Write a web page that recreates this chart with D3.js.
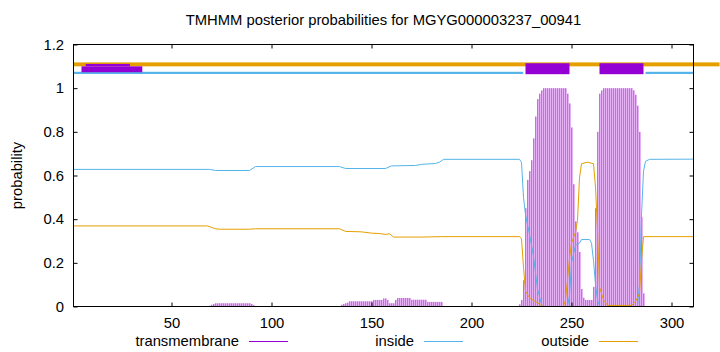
<!DOCTYPE html>
<html>
<head>
<meta charset="utf-8">
<script src="https://cdn.jsdelivr.net/npm/d3@7"></script>
<style>
  body { margin: 0; background: #fff; }
  svg { display: block; font-family: "Liberation Sans", Arial, sans-serif; }
</style>
</head>
<body>
<div id="my_dataviz"></div>
<script>
// sequence positions and ticks
const seqLen = 311;
const xTicks = [50, 100, 150, 200, 250, 300];
const yTicks = [0, 0.2, 0.4, 0.6, 0.8, 1, 1.2];
const titleText = "TMHMM posterior probabilities for MGYG000003237_00941";
const legendNames = ["transmembrane", "inside", "outside"];

// transmembrane posterior, one value per residue (1..311)
const tmProb = [
  0, 0, 0, 0, 0, 0, 0, 0, 0, 0, 0, 0, 0, 0, 0, 0, 0, 0, 0, 0,
  0, 0, 0, 0, 0, 0, 0, 0, 0, 0, 0, 0, 0, 0, 0, 0, 0, 0, 0, 0,
  0, 0, 0, 0, 0, 0, 0, 0, 0, 0, 0, 0, 0, 0, 0, 0, 0, 0, 0, 0,
  0, 0, 0, 0, 0, 0, 0, 0, 0.004, 0.008, 0.012, 0.015, 0.015, 0.015, 0.015, 0.015, 0.015, 0.015, 0.015, 0.015,
  0.015, 0.015, 0.015, 0.015, 0.015, 0.015, 0.015, 0.015, 0.015, 0.012, 0.006, 0, 0, 0, 0, 0, 0, 0, 0, 0,
  0, 0, 0, 0, 0, 0, 0, 0, 0, 0, 0, 0, 0, 0, 0, 0, 0, 0, 0, 0,
  0, 0, 0, 0, 0, 0, 0, 0, 0, 0, 0, 0, 0, 0, 0.008, 0.012, 0.015, 0.018, 0.024, 0.024,
  0.024, 0.024, 0.024, 0.024, 0.024, 0.024, 0.024, 0.024, 0.024, 0.024, 0.03, 0.03, 0.03, 0.03, 0.03, 0.037, 0.037, 0.03, 0.015, 0.015,
  0.015, 0.03, 0.039, 0.039, 0.039, 0.039, 0.039, 0.039, 0.039, 0.031, 0.031, 0.031, 0.031, 0.031, 0.031, 0.031, 0.031, 0.021, 0.021, 0.021,
  0.021, 0.021, 0.021, 0.021, 0.021, 0, 0, 0, 0, 0, 0, 0, 0, 0, 0, 0, 0, 0, 0, 0,
  0, 0, 0, 0, 0, 0, 0, 0, 0, 0, 0, 0, 0, 0, 0, 0, 0, 0, 0, 0,
  0, 0, 0, 0.01, 0.03, 0.12, 0.45, 0.58, 0.62, 0.67, 0.77, 0.87, 0.95, 0.975, 0.99, 1, 1, 1, 1, 1,
  1, 1, 1, 1, 1, 1, 1, 0.975, 0.93, 0.82, 0.56, 0.39, 0.34, 0.25, 0.08, 0.04, 0.03, 0.03, 0.03, 0.03,
  0.09, 0.45, 0.8, 0.975, 0.99, 1, 1, 1, 1, 1, 1, 1, 1, 1, 1, 1, 1, 1, 1, 1,
  0.99, 0.97, 0.92, 0.8, 0.41, 0.06, 0, 0, 0, 0, 0, 0, 0, 0, 0, 0, 0, 0, 0, 0,
  0, 0, 0, 0, 0, 0, 0, 0, 0, 0, 0
];

// inside / outside curves as [residue, probability] vertices
const insideLine = [
  [1, 0.628], [69, 0.628], [72, 0.623], [89, 0.623], [92, 0.641], [134, 0.641],
  [137, 0.632], [157, 0.632], [160, 0.644], [172, 0.646], [175, 0.651], [182, 0.655],
  [184, 0.661], [186, 0.674], [224, 0.674], [225, 0.66], [226, 0.5], [227, 0.42],
  [229, 0.33], [231, 0.23], [233, 0.08], [235, 0.01], [236, 0], [248, 0], [249, 0.05],
  [250, 0.2], [252, 0.28], [254, 0.29], [255, 0.307], [259, 0.307], [260, 0.29],
  [261, 0.21], [262, 0.1], [263, 0.03], [264, 0], [283, 0], [284, 0.1], [285, 0.42],
  [286, 0.62], [287, 0.665], [289, 0.674], [311, 0.675]
];
const outsideLine = [
  [1, 0.369], [68, 0.369], [72, 0.356], [74, 0.354], [89, 0.354], [92, 0.356],
  [134, 0.356], [137, 0.344], [145, 0.342], [150, 0.336], [154, 0.334], [157, 0.33],
  [159, 0.333], [161, 0.318], [175, 0.318], [185, 0.32], [224, 0.32], [225, 0.31],
  [226, 0.18], [227, 0.07], [229, 0.04], [232, 0.022], [235, 0.005], [236, 0], [246, 0],
  [247, 0.03], [248, 0.12], [249, 0.22], [250, 0.29], [252, 0.34], [253, 0.395],
  [254, 0.59], [255, 0.654], [258, 0.661], [261, 0.654], [262, 0.547], [263, 0.35],
  [264, 0.09], [266, 0.03], [268, 0.005], [280, 0.005], [282, 0.022], [284, 0.06],
  [285, 0.21], [286, 0.32], [311, 0.32]
];

// predicted topology strips along the top: [from, to, low, high]
const outsideStrips = [[1, 324, 1.1, 1.118]];
const insideStrips = [[1, 225.85, 1.065, 1.075], [287, 311, 1.065, 1.075]];
const tmStrips = [[5, 35.4, 1.073, 1.1], [7.1, 29.2, 1.1, 1.111], [227, 249, 1.064, 1.114], [264, 286, 1.064, 1.114]];

const colors = { transmembrane: "#9400d3", inside: "#56b4e9", outside: "#e69f00" };

const margin = { top: 44.5, right: 26.5, bottom: 45.5, left: 73.5 },
    width = 720 - margin.left - margin.right,
    height = 352 - margin.top - margin.bottom;

const root = d3.select("#my_dataviz")
    .append("svg")
    .attr("width", 720)
    .attr("height", 352);

const svg = root.append("g")
    .attr("transform", `translate(${margin.left}, ${margin.top})`);

const x = d3.scaleLinear().domain([1, seqLen]).range([0, width]);
const y = d3.scaleLinear().domain([0, 1.2]).range([height, 0]);

// impulses for transmembrane (anti-aliased look: dark column + pale column)
const tmData = tmProb.map((p, i) => ({ pos: i + 1, p: p })).filter(d => d.p > 0);
const imp = svg.append("g").selectAll("g")
    .data(tmData)
    .join("g");
imp.append("line")
    .attr("x1", d => x(d.pos)).attr("x2", d => x(d.pos))
    .attr("y1", y(0)).attr("y2", d => y(d.p))
    .attr("stroke", "#c070e6")
    .attr("stroke-width", 1);
imp.append("line")
    .attr("x1", d => x(d.pos) + 1).attr("x2", d => x(d.pos) + 1)
    .attr("y1", y(0)).attr("y2", d => y(d.p))
    .attr("stroke", "#e6b2f5")
    .attr("stroke-width", 1);

const line = d3.line().x(d => x(d[0])).y(d => y(d[1]));

svg.append("path")
    .datum(insideLine)
    .attr("d", line)
    .attr("fill", "none")
    .attr("stroke", colors.inside)
    .attr("stroke-width", 1);

svg.append("path")
    .datum(outsideLine)
    .attr("d", line)
    .attr("fill", "none")
    .attr("stroke", colors.outside)
    .attr("stroke-width", 1);

// topology strips
function strips(data, color) {
    svg.append("g")
        .selectAll("rect")
        .data(data)
        .join("rect")
        .attr("x", d => x(d[0]))
        .attr("width", d => x(d[1]) - x(d[0]))
        .attr("y", d => y(d[3]))
        .attr("height", d => y(d[2]) - y(d[3]))
        .attr("fill", color);
}
strips(outsideStrips, colors.outside);
strips(insideStrips, colors.inside);
strips(tmStrips, colors.transmembrane);

// axes, ticks pointing inwards
const fontSize = "14.8px";
const ax = svg.append("g").attr("transform", `translate(0, ${height})`)
    .call(d3.axisBottom(x).tickValues(xTicks).tickSizeInner(-4).tickSizeOuter(0).tickPadding(10.5));
const ay = svg.append("g")
    .call(d3.axisLeft(y).tickValues(yTicks).tickSizeInner(-4).tickSizeOuter(0).tickPadding(9.5)
        .tickFormat(d => d3.format("")(+d.toFixed(1))));
const axt = svg.append("g")
    .call(d3.axisTop(x).tickValues(xTicks).tickSizeInner(-4).tickSizeOuter(0).tickFormat(""));
const ayr = svg.append("g").attr("transform", `translate(${width}, 0)`)
    .call(d3.axisRight(y).tickValues(yTicks).tickSizeInner(-4).tickSizeOuter(0).tickFormat(""));

[ax, ay, axt, ayr].forEach(g => {
    g.select(".domain").remove();
    g.selectAll("line").attr("stroke", "#000");
    g.selectAll("text").attr("fill", "#000").style("font-size", fontSize)
        .style("font-family", '"Liberation Sans", Arial, sans-serif');
});

svg.append("rect")
    .attr("width", width)
    .attr("height", height)
    .attr("fill", "none")
    .attr("stroke", "#000")
    .attr("stroke-width", 1);

// title and axis label
root.append("text")
    .attr("x", margin.left + width / 2)
    .attr("y", 25)
    .attr("text-anchor", "middle")
    .style("font-size", fontSize)
    .text(titleText);

root.append("text")
    .attr("transform", `translate(22, ${margin.top + height / 2}) rotate(-90)`)
    .attr("text-anchor", "middle")
    .style("font-size", fontSize)
    .text("probability");

// legend
const legend = root.append("g")
    .selectAll("g")
    .data(legendNames)
    .join("g")
    .attr("transform", (d, i) => `translate(${239 + i * 175}, 341)`);
legend.append("text")
    .attr("text-anchor", "end")
    .attr("dy", "0.35em")
    .style("font-size", fontSize)
    .text(d => d);
legend.append("line")
    .attr("x1", 10).attr("x2", 49)
    .attr("y1", 0.5).attr("y2", 0.5)
    .attr("stroke", d => colors[d])
    .attr("stroke-width", 1);
</script>
</body>
</html>
